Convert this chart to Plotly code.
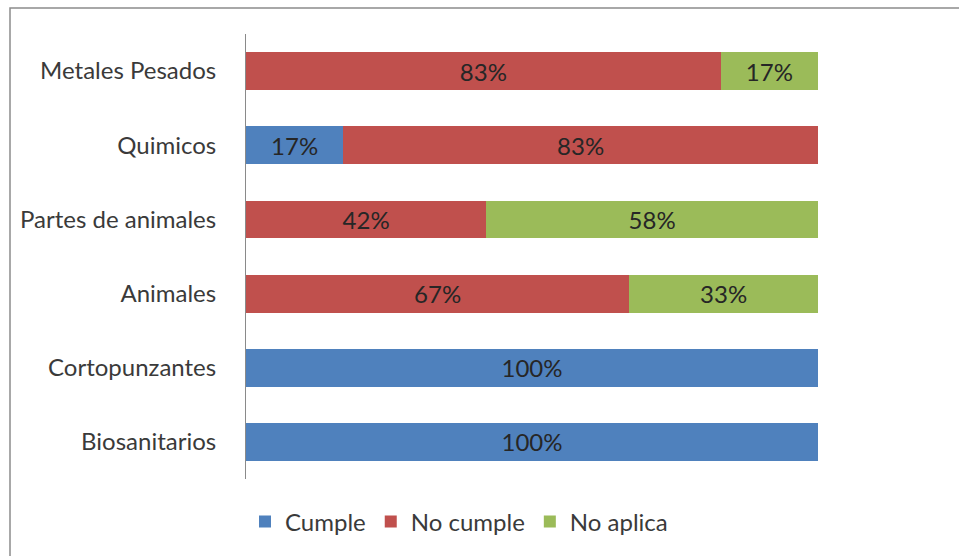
import plotly.graph_objects as go

categories = ["Biosanitarios", "Cortopunzantes", "Animales",
              "Partes de animales", "Quimicos", "Metales Pesados"]
cumple = [100, 100, 0, 0, 17, 0]
no_cumple = [0, 0, 67, 42, 83, 83]
no_aplica = [0, 0, 33, 58, 0, 17]

series = [
    ("Cumple", cumple, "#4F81BD"),
    ("No cumple", no_cumple, "#C0504D"),
    ("No aplica", no_aplica, "#9BBB59"),
]

FONT = "Lato, 'Open Sans', sans-serif"
W, H = 959, 556
L, R, T, B = 246, 141, 34, 77

fig = go.Figure()
for name, vals, color in series:
    fig.add_trace(go.Bar(
        y=categories, x=vals, name=name, orientation="h",
        marker=dict(color=color, line=dict(width=0)),
        text=[f"{v}%" if v else "" for v in vals],
        textposition="inside", insidetextanchor="middle",
        textfont=dict(family=FONT, size=24, color="#262626"),
        constraintext="none",
    ))

pw, ph = W - L - R, H - T - B
def px_x(p):
    return (p - L) / pw
def px_y(p):
    return (H - B - p) / ph

fig.update_layout(
    width=W, height=H,
    barmode="stack", bargap=0.49,
    margin=dict(l=L, r=R, t=T, b=B, autoexpand=False),
    paper_bgcolor="white", plot_bgcolor="white",
    font=dict(family=FONT, size=24, color="#3a3a3a"),
    xaxis=dict(range=[0, 100], visible=False, fixedrange=True),
    yaxis=dict(showline=True, linecolor="#8a8a8a", linewidth=1,
               showgrid=False, ticks="", ticklabelstandoff=24,
               tickfont=dict(family=FONT, size=24, color="#3a3a3a")),
    legend=dict(orientation="h", x=px_x(459), xanchor="center",
                y=px_y(522), yanchor="middle",
                font=dict(family=FONT, size=24, color="#3a3a3a"),
                itemwidth=30, traceorder="normal"),
    showlegend=True,
    shapes=[dict(type="rect", xref="paper", yref="paper",
                 x0=px_x(10), x1=px_x(975), y0=px_y(8), y1=px_y(575),
                 line=dict(color="#8c8c8c", width=1.5))],
)

fig.write_html("out.html")
